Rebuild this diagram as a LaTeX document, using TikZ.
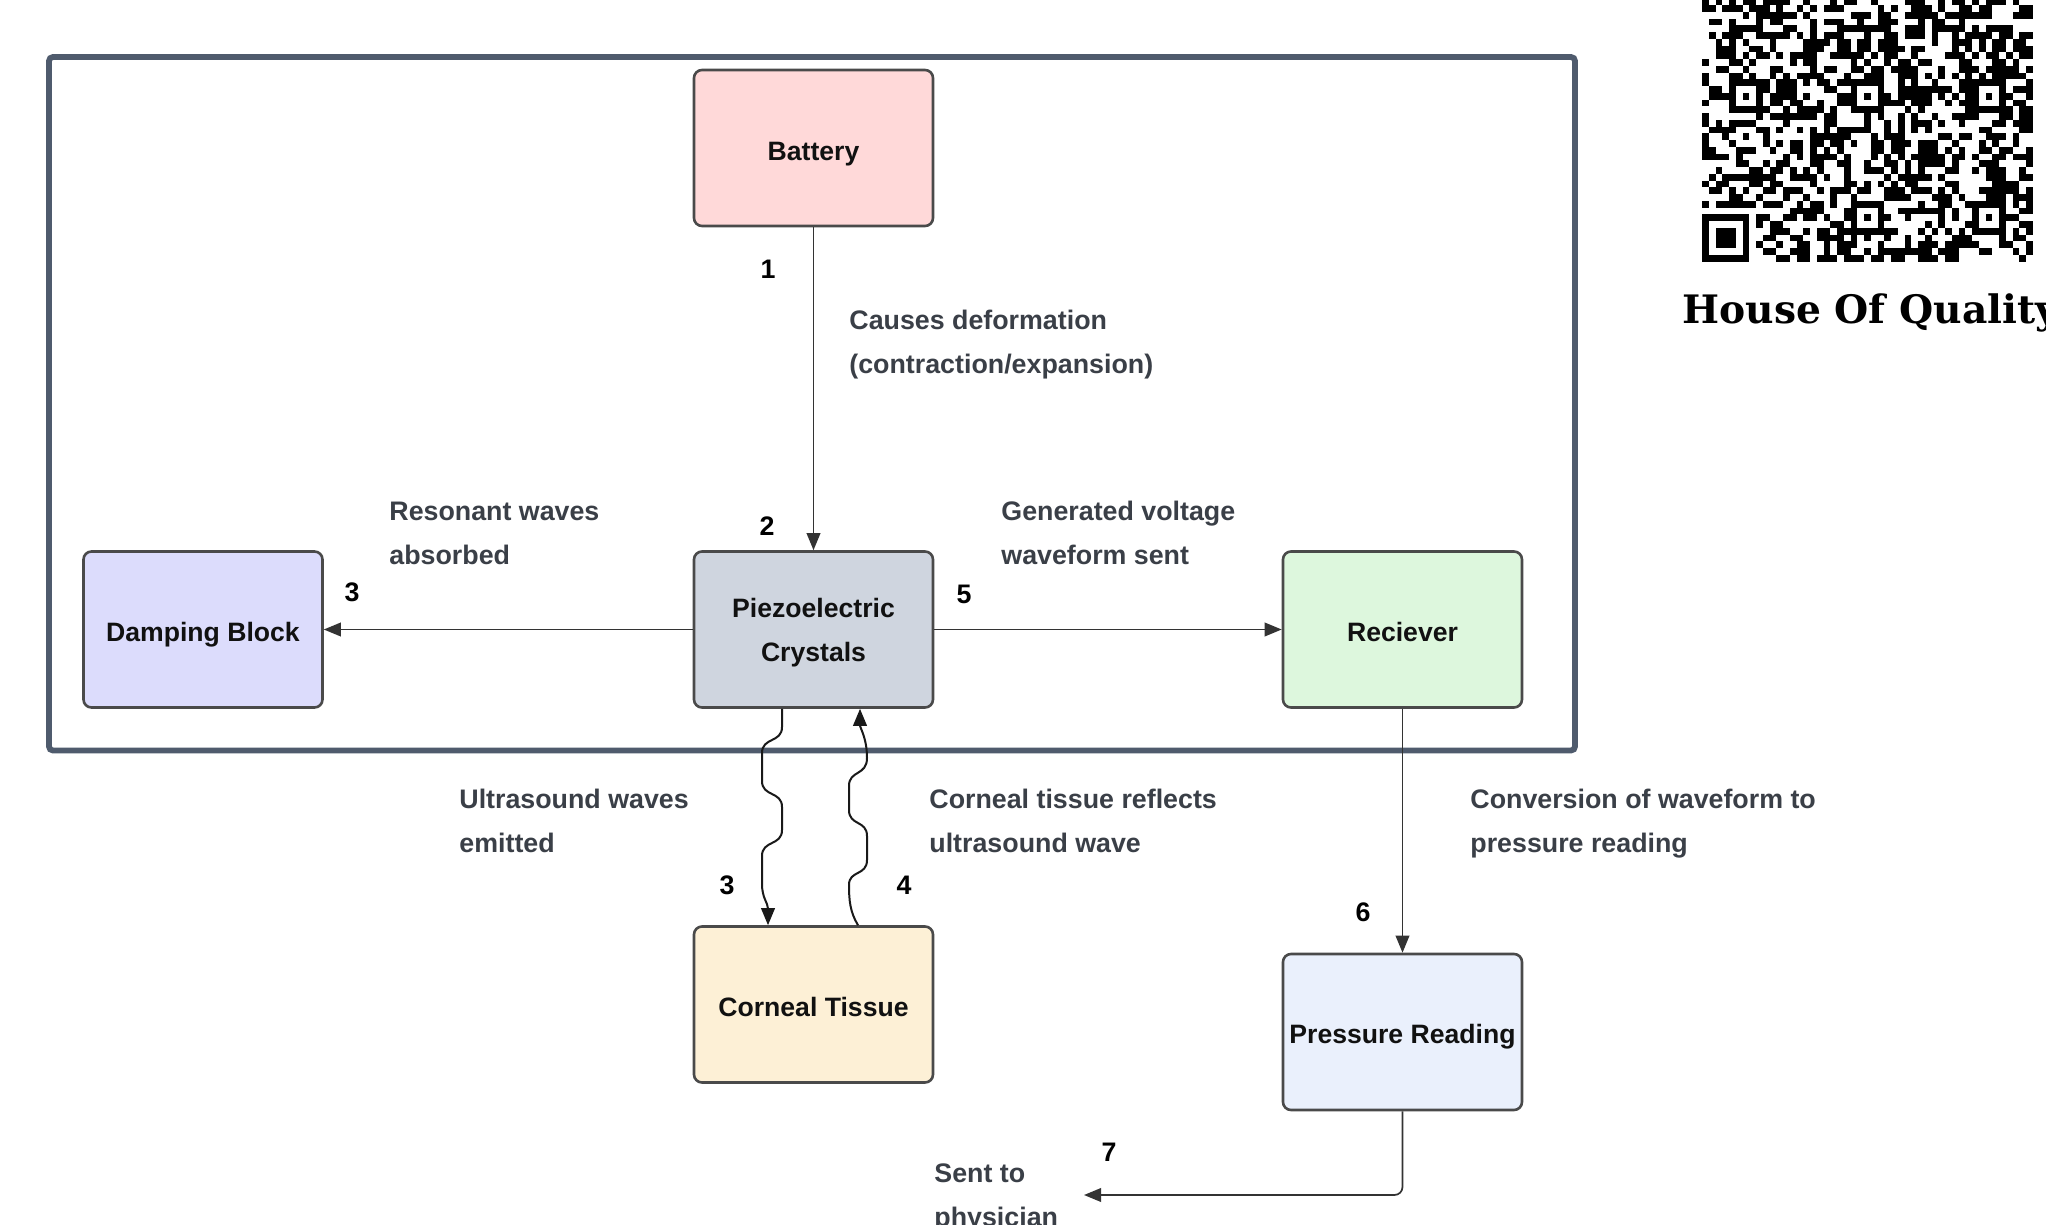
\documentclass[tikz,border=0pt]{standalone}
\usepackage{fontspec}
\setmainfont{Liberation Sans}
\newfontfamily\hoqfont{DejaVu Serif}
\usetikzlibrary{arrows.meta}
\definecolor{framec}{HTML}{4F5B6D}
\definecolor{boxline}{HTML}{4A4A4A}
\definecolor{batfill}{HTML}{FFD9D9}
\definecolor{pzfill}{HTML}{CFD5DF}
\definecolor{dampfill}{HTML}{DCDCFC}
\definecolor{rcfill}{HTML}{DDF7DD}
\definecolor{ctfill}{HTML}{FDF0D6}
\definecolor{prfill}{HTML}{EAF0FC}
\definecolor{labtext}{HTML}{3A3F47}
\definecolor{boxtext}{HTML}{111111}
\definecolor{connc}{HTML}{333333}
\newcommand\boxfont{\fontsize{13.3}{22}\selectfont\bfseries}
\newcommand\labfont{\fontsize{13.4}{22}\selectfont\bfseries}
\begin{document}
\begin{tikzpicture}[x=0.5pt,y=-0.5pt,
  box/.style={draw=boxline, line width=1.3pt, rounded corners=4pt,
    minimum width=119.5pt, minimum height=78pt, inner sep=0pt,
    align=center, text=boxtext, font=\boxfont, text depth=0pt},
  onel/.style={text height=11.6pt},
  lab/.style={anchor=base west, text=labtext, font=\labfont, inner sep=0pt},
  num/.style={text=black, font=\labfont, inner sep=0pt},
  conn/.style={draw=connc, line width=0.85pt, -{Triangle[length=8.5pt,width=6.8pt]}},
  wave/.style={draw=black!90, line width=1pt, -{Triangle[length=8.5pt,width=6.8pt]}}
]
\useasboundingbox (0,0) rectangle (2046,1225);
\fill[white] (0,0) rectangle (2046,1225);

% outer frame
\node[draw=framec, line width=2.9pt, rounded corners=2pt,
  minimum width=763pt, minimum height=346.75pt, inner sep=0pt] (frame) at (812,403.75) {};

% boxes
\node[box, onel, text height=13pt, fill=batfill]  (bat)  at (813.5,148)   {Battery};
\node[box, fill=pzfill]         (pz)   at (813.5,629.5) {Piezoelectric\\Crystals};
\node[box, onel, fill=dampfill] (damp) at (203,629.5)   {Damping Block};
\node[box, onel, fill=rcfill]   (rc)   at (1402.5,629.5){Reciever};
\node[box, onel, fill=ctfill]   (ct)   at (813.5,1004.5){Corneal Tissue};
\node[box, onel, fill=prfill]   (pr)   at (1402.5,1032) {Pressure Reading};

% connectors
\draw[conn] (bat.south) -- (pz.north);
\draw[conn] (pz.west) -- (damp.east);
\draw[conn] (pz.east) -- (rc.west);
\draw[conn] (rc.south) -- (pr.north);
\coordinate (phys) at (1084,1195);
\draw[conn, rounded corners=4pt] (pr.south) |- (phys);

% wavy connectors
\draw[wave] ([xshift=-15.75pt]pz.south) -- (782,727)
  .. controls (782,743) and (762,737) .. (762,753) -- (762,781)
  .. controls (762,797) and (782,791) .. (782,807) -- (782,830)
  .. controls (782,846) and (762,840) .. (762,856) -- (762,884)
  .. controls (762,898) and (768,903) .. ([xshift=-22.75pt]ct.north);
\draw[wave] ([xshift=22.25pt]ct.north)
  .. controls (850,912) and (849,900) .. (849,885)
  .. controls (849,870) and (867,876) .. (867,860) -- (867,836)
  .. controls (867,820) and (849,826) .. (849,810) -- (849,786)
  .. controls (849,770) and (867,776) .. (867,758)
  .. controls (867,738) and (860,728) .. ([xshift=23.25pt]pz.south);

% numbers
\node[num] (n1) at (768,269) {1};
\node[num] (n2) at (767,526) {2};
\node[num] (n3a) at (352,592) {3};
\node[num] (n5) at (964,594) {5};
\node[num] (n3b) at (727,885) {3};
\node[num] (n4) at (904,885) {4};
\node[num] (n6) at (1363,912) {6};
\node[num] (n7) at (1109,1152) {7};

% labels
\node[lab] (la1) at (849,329) {Causes deformation};
\node[lab] (la2) at (849,373) {(contraction/expansion)};
\node[lab] (lb1) at (389,520) {Resonant waves};
\node[lab] (lb2) at (389,564) {absorbed};
\node[lab] (lc1) at (1001,520) {Generated voltage};
\node[lab] (lc2) at (1001,564) {waveform sent};
\node[lab] (ld1) at (459,808) {Ultrasound waves};
\node[lab] (ld2) at (459,852) {emitted};
\node[lab] (le1) at (929,808) {Corneal tissue reflects};
\node[lab] (le2) at (929,852) {ultrasound wave};
\node[lab] (lf1) at (1470,808) {Conversion of waveform to};
\node[lab] (lf2) at (1470,852) {pressure reading};
\node[lab] (lg1) at (934,1182) {Sent to};
\node[lab] (lg2) at (934,1226) {physician};

% QR code (version-8 style, top part cut off)
\begin{scope}
\clip (1690,0) rectangle (2046,270);
\pgfmathsetseed{4711}
\foreach \r in {10,...,48} {
  \foreach \c in {0,...,48} {
    \pgfmathtruncatemacro\qb{2*rnd}
    \ifnum\qb=1
      \fill (1702+\c*6.75,-69+\r*6.75) rectangle ++(6.75,6.75);
    \fi
  }
}
% timing column
\fill[white] (1702+6*6.75,-69+8*6.75) rectangle ++(6.75,33*6.75);
\foreach \r in {8,10,...,40} {
  \fill (1702+6*6.75,-69+\r*6.75) rectangle ++(6.75,6.75);
}
% finder pattern bottom-left
\fill[white] (1702,-69+41*6.75) rectangle ++(8*6.75,8*6.75);
\fill (1702,-69+42*6.75) rectangle ++(7*6.75,7*6.75);
\fill[white] (1702+6.75,-69+43*6.75) rectangle ++(5*6.75,5*6.75);
\fill (1702+2*6.75,-69+44*6.75) rectangle ++(3*6.75,3*6.75);
% alignment patterns
\foreach \ac/\ar in {6/24,24/24,42/24,24/42,42/42} {
  \fill (1702+\ac*6.75-2*6.75,-69+\ar*6.75-2*6.75) rectangle ++(5*6.75,5*6.75);
  \fill[white] (1702+\ac*6.75-6.75,-69+\ar*6.75-6.75) rectangle ++(3*6.75,3*6.75);
  \fill (1702+\ac*6.75,-69+\ar*6.75) rectangle ++(6.75,6.75);
}
\end{scope}
\node[anchor=base west, inner sep=0pt, font={\hoqfont\fontsize{19.6}{22}\selectfont\bfseries}] (hoq) at (1682,323) {House Of Quality};
\end{tikzpicture}
\end{document}
